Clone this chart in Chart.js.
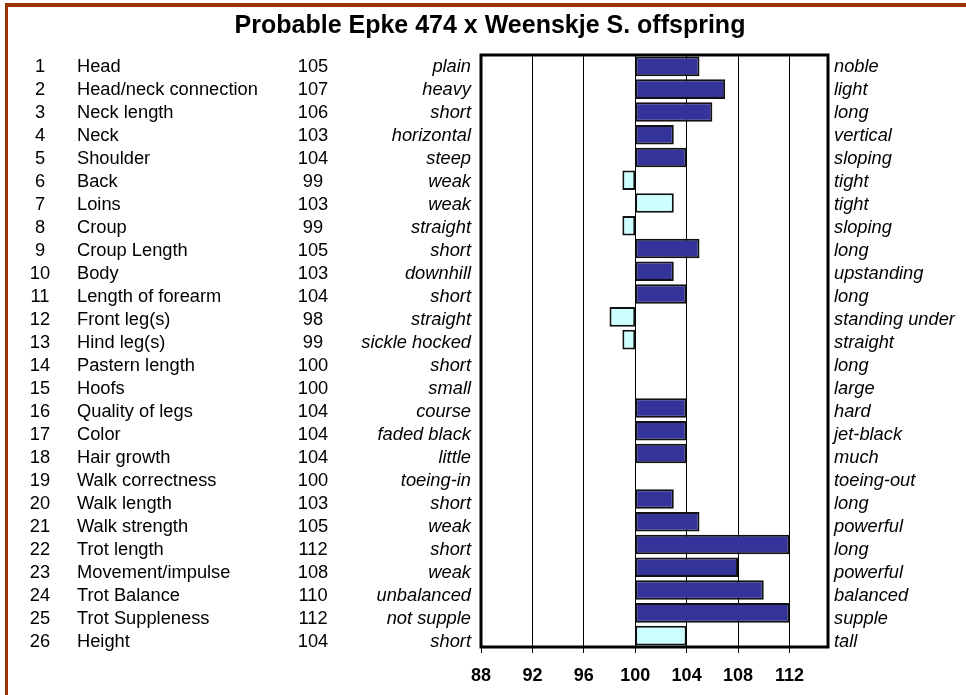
<!DOCTYPE html>
<html lang="en">
<head>
  <meta charset="UTF-8">
  <title>Probable Epke 474 x Weenskje S. offspring</title>
  <style>
    html, body { margin: 0; padding: 0; background: #fff; }
    #wrap { width: 966px; height: 695px; position: relative; }
  </style>
</head>
<body>
  <div id="wrap">
    <canvas id="grafico" width="966" height="695"></canvas>
  </div>

  <script src="https://cdn.jsdelivr.net/npm/chart.js"></script>
  <script>
    // data
    const numbers = [1, 2, 3, 4, 5, 6, 7, 8, 9, 10, 11, 12, 13, 14, 15, 16, 17, 18, 19, 20, 21, 22, 23, 24, 25, 26];
    const traits = ['Head', 'Head/neck connection', 'Neck length', 'Neck', 'Shoulder', 'Back', 'Loins', 'Croup',
      'Croup Length', 'Body', 'Length of forearm', 'Front leg(s)', 'Hind leg(s)', 'Pastern length', 'Hoofs',
      'Quality of legs', 'Color', 'Hair growth', 'Walk correctness', 'Walk length', 'Walk strength', 'Trot length',
      'Movement/impulse', 'Trot Balance', 'Trot Suppleness', 'Height'];
    const scores = [105, 107, 106, 103, 104, 99, 103, 99, 105, 103, 104, 98, 99, 100, 100, 104, 104, 104, 100, 103, 105, 112, 108, 110, 112, 104];
    const lowLabels = ['plain', 'heavy', 'short', 'horizontal', 'steep', 'weak', 'weak', 'straight', 'short', 'downhill',
      'short', 'straight', 'sickle hocked', 'short', 'small', 'course', 'faded black', 'little', 'toeing-in', 'short',
      'weak', 'short', 'weak', 'unbalanced', 'not supple', 'short'];
    const highLabels = ['noble', 'light', 'long', 'vertical', 'sloping', 'tight', 'tight', 'sloping', 'long', 'upstanding',
      'long', 'standing under', 'straight', 'long', 'large', 'hard', 'jet-black', 'much', 'toeing-out', 'long',
      'powerful', 'long', 'powerful', 'balanced', 'supple', 'tall'];
    // rows drawn in the pale colour
    const pale = [false, false, false, false, false, true, true, true, false, false, false, true, true, false, false,
      false, false, false, false, false, false, false, false, false, false, true];
    const baseScore = 100;
    const axisMin = 88;
    const axisMax = 115;
    const axisStep = 4;

    const FONT = '"Liberation Sans", Arial, sans-serif';

    const tablePlugin = {
      id: 'tabela',
      beforeDraw(chart) {
        const ctx = chart.ctx;
        ctx.save();
        ctx.fillStyle = '#fff';
        ctx.fillRect(0, 0, chart.width, chart.height);
        // brown frame
        ctx.fillStyle = '#993300';
        ctx.fillRect(5, 3, chart.width - 5, 4);
        ctx.fillRect(5, 3, 3, chart.height - 3);
        ctx.restore();
      },
      afterDraw(chart) {
        const ctx = chart.ctx;
        const area = chart.chartArea;
        const y = chart.scales.y;
        ctx.save();

        // title
        ctx.fillStyle = '#000';
        ctx.font = 'bold 25px ' + FONT;
        ctx.textAlign = 'center';
        ctx.textBaseline = 'alphabetic';
        ctx.fillText('Probable Epke 474 x Weenskje S. offspring', 490, 33);

        // plot frame
        ctx.strokeStyle = '#000';
        ctx.lineWidth = 3;
        ctx.strokeRect(area.left, area.top, area.right - area.left, area.bottom - area.top);

        // table columns
        ctx.textBaseline = 'middle';
        const first = y.getPixelForValue(0) + 1;
        const pitch = 23;
        traits.forEach((t, i) => {
          const ty = first + i * pitch;
          ctx.font = '18.3px ' + FONT;
          ctx.textAlign = 'center';
          ctx.fillText(String(numbers[i]), 40, ty);
          ctx.textAlign = 'left';
          ctx.fillText(t, 77, ty);
          ctx.textAlign = 'center';
          ctx.fillText(String(scores[i]), 313, ty);
          ctx.font = 'italic 18.3px ' + FONT;
          ctx.textAlign = 'right';
          ctx.fillText(lowLabels[i], 471, ty);
          ctx.textAlign = 'left';
          ctx.fillText(highLabels[i], 834, ty);
        });
        ctx.restore();
      }
    };

    new Chart(document.getElementById('grafico'), {
      type: 'bar',
      data: {
        labels: traits,
        datasets: [{
          data: scores.map(v => v === baseScore ? null : [baseScore, v]),
          backgroundColor: pale.map(p => p ? '#CCFFFF' : '#333399'),
          borderColor: '#111',
          borderWidth: 2,
          borderSkipped: false,
          barPercentage: 0.86,
          categoryPercentage: 1.0
        }]
      },
      options: {
        indexAxis: 'y',
        responsive: false,
        animation: false,
        layout: { padding: { left: 481, right: 138, top: 55, bottom: 0 } },
        plugins: {
          legend: { display: false },
          tooltip: { enabled: false },
          title: { display: false }
        },
        scales: {
          x: {
            min: axisMin,
            max: axisMax,
            afterFit: s => { s.height = 48; },
            ticks: {
              stepSize: axisStep,
              includeBounds: false,
              color: '#000',
              padding: 12,
              font: { family: FONT, size: 18, weight: 'bold' }
            },
            grid: { color: '#000', lineWidth: 1, tickLength: 6, drawTicks: true },
            border: { display: false }
          },
          y: {
            display: false,
            grid: { display: false }
          }
        }
      },
      plugins: [tablePlugin]
    });
  </script>
</body>
</html>
